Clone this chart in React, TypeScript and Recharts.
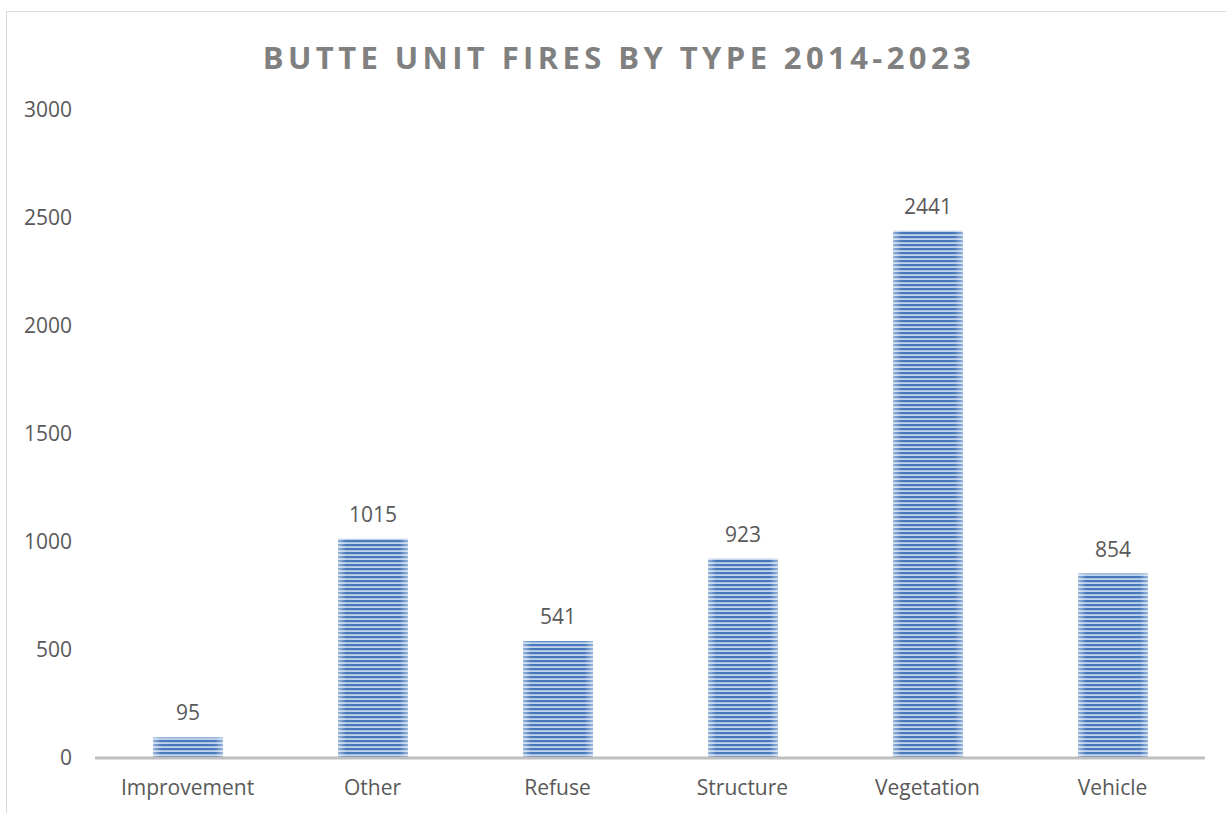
import React from "react"
import { Bar, BarChart, LabelList, XAxis, YAxis } from "recharts"

const categories = ["Improvement", "Other", "Refuse", "Structure", "Vegetation", "Vehicle"]
const fireCounts = [95, 1015, 541, 923, 2441, 854]
const yTicks = [0, 500, 1000, 1500, 2000, 2500, 3000]

const data = categories.map((name, i) => ({ name, count: fireCounts[i] }))

const FONT = "'Open Sans', 'Noto Sans', sans-serif"
const TEXT = "#595959"

// striped bar with a soft lightening toward the left/right edges
function StripedBar(props: any): React.JSX.Element {
  const { x, y, width, height } = props
  if (!height || height <= 0) return <g />
  return (
    <g>
      <rect x={x} y={y} width={width} height={height} fill="url(#stripes)" />
      <rect x={x} y={y} width={width} height={height} fill="url(#edgeGlow)" />
    </g>
  )
}

export default function App(): React.JSX.Element {
  return (
    <div
      style={{
        position: "fixed",
        left: 0,
        top: 0,
        width: 1226,
        height: 813,
        overflow: "hidden",
        background: "#fff",
        fontFamily: FONT,
      }}
    >
      <div
        style={{
          position: "absolute",
          left: 6,
          top: 11,
          width: 1300,
          height: 900,
          border: "1.5px solid #d9d9d9",
          boxSizing: "border-box",
        }}
      />
      <div
        style={{
          position: "absolute",
          left: 6,
          top: 35,
          width: 1226,
          textAlign: "center",
          fontSize: 31,
          fontWeight: 700,
          letterSpacing: 4.4,
          color: "#808080",
          lineHeight: "44px",
        }}
      >
        BUTTE UNIT FIRES BY TYPE 2014-2023
      </div>
      <div style={{ position: "absolute", left: 0, top: 0 }}>
        <BarChart
          width={1226}
          height={813}
          data={data}
          margin={{ top: 110, right: 21, bottom: 15, left: 0 }}
          barSize={70}
        >
          <defs>
            <pattern id="stripes" width="8" height="4" patternUnits="userSpaceOnUse">
              <rect x="0" y="0" width="8" height="4" fill="#c2d3ec" />
              <rect x="0" y="0" width="8" height="2.2" fill="#4779bb" />
            </pattern>
            <linearGradient id="edgeGlow" x1="0" y1="0" x2="1" y2="0">
              <stop offset="0%" stopColor="#ffffff" stopOpacity={0.45} />
              <stop offset="12%" stopColor="#ffffff" stopOpacity={0} />
              <stop offset="88%" stopColor="#ffffff" stopOpacity={0} />
              <stop offset="100%" stopColor="#ffffff" stopOpacity={0.45} />
            </linearGradient>
          </defs>
          <XAxis
            dataKey="name"
            height={40}
            tickLine={false}
            tickSize={0}
            tickMargin={22}
            axisLine={{ stroke: "#bfbfbf", strokeWidth: 3 }}
            tick={{ fill: TEXT, fontSize: 21, fontFamily: FONT }}
            interval={0}
          />
          <YAxis
            domain={[0, 3000]}
            ticks={yTicks}
            width={95}
            axisLine={false}
            tickLine={false}
            tickSize={0}
            tickMargin={23}
            tick={{ fill: TEXT, fontSize: 21, fontFamily: FONT }}
          />
          <Bar dataKey="count" isAnimationActive={false} shape={<StripedBar />}>
            <LabelList
              dataKey="count"
              position="top"
              offset={17}
              fill={TEXT}
              fontSize={21}
              fontFamily={FONT}
            />
          </Bar>
        </BarChart>
      </div>
    </div>
  )
}
